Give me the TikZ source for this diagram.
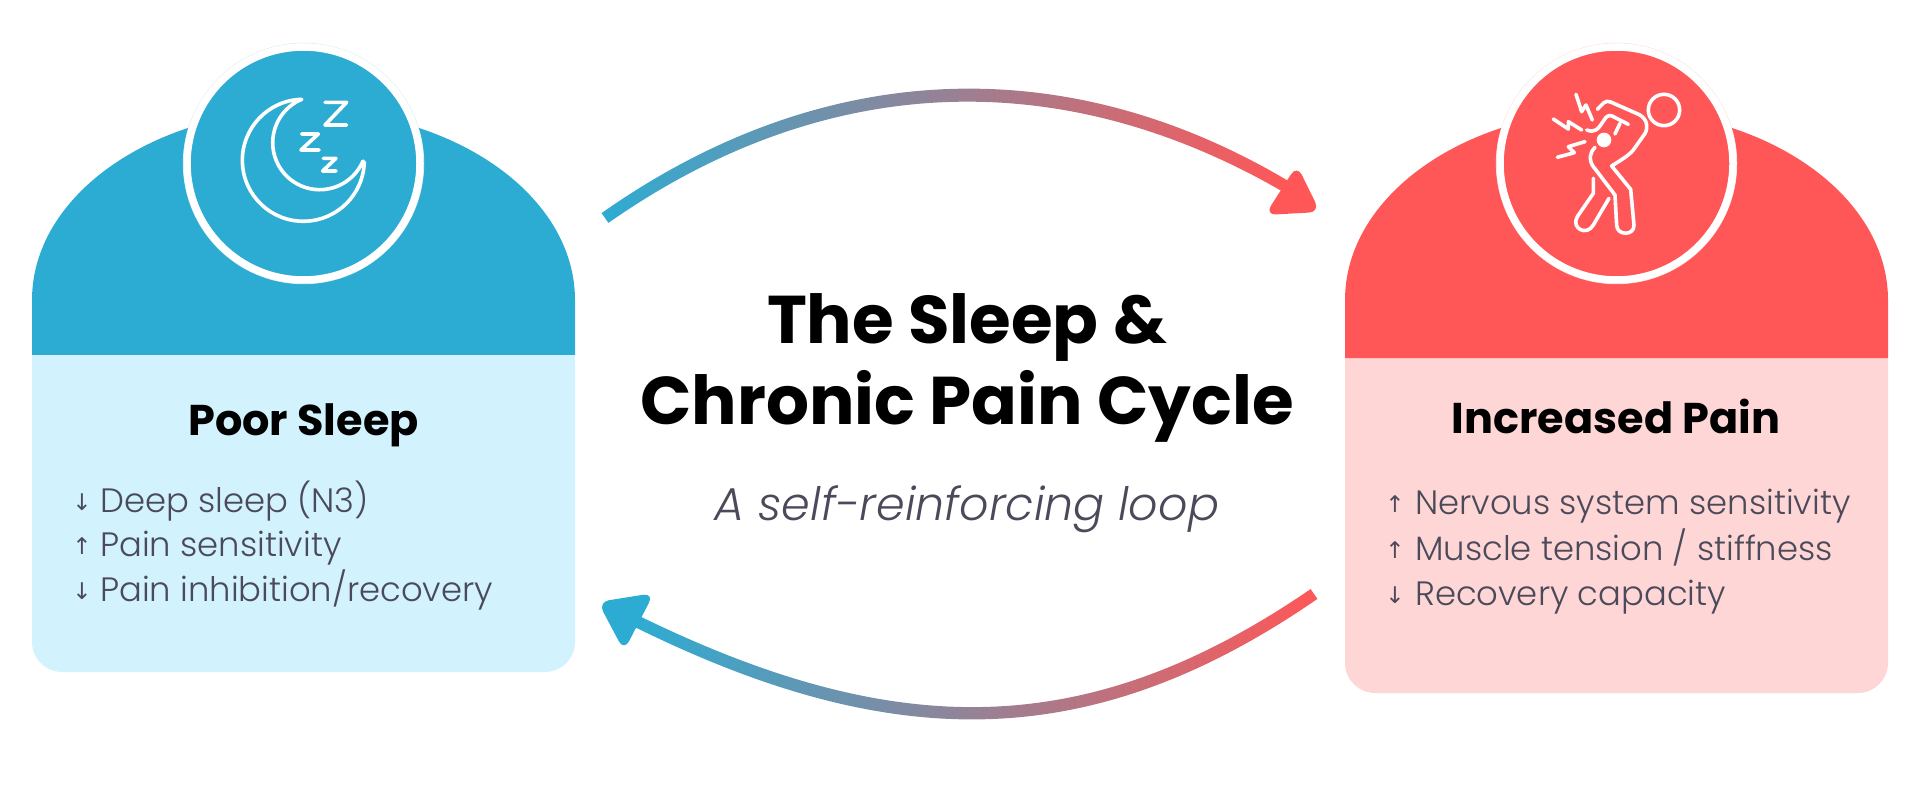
\documentclass[tikz,border=0pt]{standalone}
\usepackage{fontspec}
\setmainfont{Poppins}
\newfontfamily\lightfont{Poppins Light}
\newfontfamily\arrowfont{DejaVu Sans}
\usetikzlibrary{calc}
\definecolor{sleepblue}{HTML}{2DACD3}
\definecolor{sleeplight}{HTML}{D2F2FE}
\definecolor{painred}{HTML}{FF5757}
\definecolor{painlight}{HTML}{FFD6D6}
\definecolor{bodygray}{HTML}{4A4A5A}
\tikzset{
  heading/.style={anchor=base, inner sep=0pt, font=\fontsize{43}{50}\selectfont\bfseries},
  itemtext/.style={anchor=base west, inner sep=0pt, text=bodygray, font=\fontsize{33.8}{40}\selectfont\lightfont},
  itemarrow/.style={anchor=base, inner sep=0pt, text=bodygray, font=\fontsize{23}{28}\selectfont\arrowfont},
  titletext/.style={anchor=base, inner sep=0pt, font=\fontsize{67.5}{80}\selectfont\bfseries},
  iconline/.style={draw=white, line width=3.6pt, line cap=round, line join=round},
}
\begin{document}
\begin{tikzpicture}[x=1pt, y=-1pt]
\useasboundingbox (0,0) rectangle (1920,802);

% Left card
\fill[sleeplight, rounded corners=30pt] (32,330) rectangle (575,672);
\fill[sleepblue] (32,355) -- (32,300) arc (180:360:271.5 and 190) -- (575,355) -- cycle;
\draw[sleepblue!25, line width=0.7pt] (303.5,163.5) circle (120.3);
\fill[sleepblue, draw=white, line width=7.5pt] (303.5,163.5) circle (116.5);

% Right card
\fill[painlight, rounded corners=30pt] (1345,330) rectangle (1888,693);
\fill[painred] (1345,358) -- (1345,300) arc (180:360:271.5 and 190) -- (1888,358) -- cycle;
\draw[painred!25, line width=0.7pt] (1616.5,163.5) circle (120.3);
\fill[painred, draw=white, line width=7.5pt] (1616.5,163.5) circle (116.5);

% Moon icon
\begin{scope}[shift={(170,30)}, x=0.3333pt, y=-0.3333pt]
\draw[iconline] (395,208) arc (268.4:1.6:183);
\draw[iconline] (395,208) arc (247.4:23:141);
\draw[iconline] (465,217) -- (530,217) -- (465,285) -- (530,285);
\draw[iconline] (395,312) -- (445,312) -- (393,360) -- (447,360);
\draw[iconline] (460,385) -- (498,385) -- (458,423) -- (498,423);
\end{scope}

% Person icon
\begin{scope}[shift={(1480,30)}, x=0.3333pt, y=-0.3333pt]
\draw[iconline] (552,240) circle (47);
\fill[white] (372,330) circle (22);
% Back and front leg
\draw[iconline] (352,238) -- (372,218) .. controls (378,213) and (384,213) .. (392,216)
  -- (478,254) .. controls (502,268) and (506,292) .. (494,312)
  -- (460,360) .. controls (445,378) and (420,392) .. (395,408)
  -- (452,478) -- (462,585) .. controls (464,618) and (410,618) .. (410,585)
  -- (405,495) -- (340,410) .. controls (325,390) and (330,365) .. (345,352);
% Arm
\draw[iconline] (320,300) .. controls (345,310) and (355,295) .. (362,285)
  -- (378,262) .. controls (384,255) and (390,256) .. (396,258) -- (445,283);
\draw[iconline] (420,280) -- (405,312);
% Back leg
\draw[iconline] (340,445) -- (340,490) -- (292,560) .. controls (272,595) and (320,620) .. (340,585) -- (387,505);
% Bolts
\draw[iconline] (288,193) -- (305,245) -- (318,225) -- (337,270);
\draw[iconline] (220,267) -- (265,297) -- (265,275) -- (305,300);
\draw[iconline] (232,382) -- (283,368) -- (265,350) -- (315,335);
\end{scope}

% Card headings
\node[heading] (sleephead) at (303.5,435) {Poor Sleep};
\node[heading] (painhead) at (1616,433) {Increased Pain};

% Left list
\foreach \y/\a/\t in {512/↓/{Deep sleep (N3)}, 556/↑/{Pain sensitivity}, 601/↓/{Pain inhibition/recovery}} {
  \node[itemarrow] (sleeparrow\y) at (82,\y-2) {\a};
  \node[itemtext] (sleepitem\y) at (100,\y) {\t};
}

% Right list
\foreach \y/\a/\t in {514/↑/{Nervous system sensitivity}, 560/↑/{Muscle tension / stiffness}, 605/↓/{Recovery capacity}} {
  \node[itemarrow] (painarrow\y) at (1395,\y-2) {\a};
  \node[itemtext] (painitem\y) at (1415,\y) {\t};
}

% Title
\node[titletext] (titleone) at (967,344) {The Sleep \&};
\node[titletext] (titletwo) at (967,424) {Chronic Pain Cycle};
\node[anchor=base, inner sep=0pt, text=bodygray, font=\fontsize{46}{54}\selectfont\lightfont\itshape] (subtitle) at (967,520) {A self-reinforcing loop};

% Upper connector, poor sleep to increased pain
\coordinate (upperstart) at (605,218);
\coordinate (upperend) at (1285,186);
\shade[left color=sleepblue, right color=painred]
  ($(upperstart)+(-3.4,-4.9)$) .. controls (829,53) and (1073,53) .. ($(upperend)+(3,-5.2)$)
  -- ($(upperend)+(-3,5.2)$) .. controls (1067,67) and (831,67) .. ($(upperstart)+(3.4,4.9)$) -- cycle;
\fill[painred, rounded corners=11pt] (1297,165) -- (1320,212) -- (1265,215) -- cycle;

% Lower connector, increased pain to poor sleep
\coordinate (lowerstart) at (1314,594);
\coordinate (lowerend) at (638,622);
\shade[left color=sleepblue, right color=painred]
  ($(lowerstart)+(3.4,4.9)$) .. controls (1092,754.5) and (893,754.5) .. ($(lowerend)+(-2.7,5.3)$)
  -- ($(lowerend)+(2.7,-5.3)$) .. controls (897,741.5) and (1088,741.5) .. ($(lowerstart)+(-3.4,-4.9)$) -- cycle;
\fill[sleepblue, rounded corners=11pt] (598,602) -- (654,593) -- (624,651) -- cycle;

\end{tikzpicture}
\end{document}
